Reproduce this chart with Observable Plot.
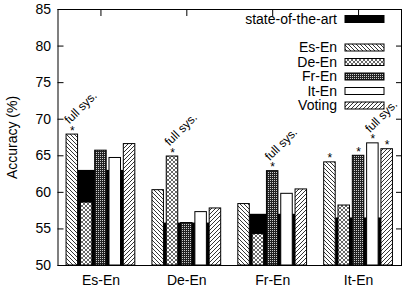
<!DOCTYPE html>
<html>
<head>
<meta charset="utf-8">
<script src="https://cdn.jsdelivr.net/npm/d3@7"></script>
<script src="https://cdn.jsdelivr.net/npm/@observablehq/plot@0.6"></script>
<style>
  html, body { margin: 0; padding: 0; background: white; }
</style>
</head>
<body>
<div id="chart"></div>
<script>
// ---- data ----
const categories = ["Es-En", "De-En", "Fr-En", "It-En"];
const systems = ["Es-En", "De-En", "Fr-En", "It-En", "Voting"];
const stateOfTheArt = [63.0, 55.8, 57.0, 56.5];
const esEn   = [67.9, 60.3, 58.4, 64.1];
const deEn   = [58.6, 64.9, 54.3, 58.2];
const frEn   = [65.7, 55.8, 62.9, 65.0];
const itEn   = [64.7, 57.3, 59.8, 66.7];
const voting = [66.6, 57.8, 60.4, 65.9];
const starred = [["Es-En"], ["De-En"], ["Fr-En"], ["Es-En", "Fr-En", "It-En", "Voting"]];
const fullSys = ["Es-En", "De-En", "Fr-En", "It-En"];
const yTicks = [50, 55, 60, 65, 70, 75, 80, 85];
const legendLabels = ["state-of-the-art", "Es-En", "De-En", "Fr-En", "It-En", "Voting"];

const seriesValues = [esEn, deEn, frEn, itEn, voting];
const fills = ["url(#p-es)", "url(#p-de)", "url(#p-fr)", "white", "url(#p-vo)"];

const step = 1 / 6, half = 0.067, soaHalf = 0.267;
const rows = [];
seriesValues.forEach((vals, si) => {
  vals.forEach((v, g) => rows.push({g, si, system: systems[si], value: v,
    cx: g + (si - 2) * step}));
});
const soaRows = stateOfTheArt.map((v, g) => ({g, value: v}));
const starRows = rows.filter(r => starred[r.g].includes(r.system));
const fullRows = rows.filter(r => fullSys[r.g] === r.system);

const marks = [
  Plot.rectY(soaRows, {x1: d => d.g - soaHalf, x2: d => d.g + soaHalf, y1: 50, y2: "value", fill: "black"}),
];
systems.forEach((s, si) => {
  marks.push(Plot.rectY(rows.filter(r => r.si === si), {
    x1: d => d.cx - half, x2: d => d.cx + half, y1: 50, y2: "value",
    fill: fills[si], stroke: "black", strokeWidth: 1
  }));
});
marks.push(
  Plot.frame({stroke: "black", strokeWidth: 1}),
  Plot.axisY({anchor: "left", ticks: yTicks, tickSize: -6, tickPadding: 13, label: null, fontSize: 14}),
  Plot.axisY({anchor: "right", ticks: yTicks, tickSize: -6, tickFormat: () => "", label: null}),
  Plot.axisX({anchor: "top", ticks: [0, 1, 2, 3], tickSize: -6, tickFormat: () => "", label: null}),
  Plot.axisX({anchor: "bottom", ticks: [0, 1, 2, 3], tickSize: 0, tickPadding: 10, tickFormat: i => categories[i], label: null, fontSize: 14}),
  Plot.text(["Accuracy (%)"], {frameAnchor: "left", text: d => d, rotate: -90, dx: -45, fontSize: 14, textAnchor: "middle"}),
  Plot.text(starRows, {x: "cx", y: "value", text: () => "*", fontSize: 12, lineAnchor: "bottom", dy: 0, textAnchor: "middle", fill: "black"}),
  Plot.text(fullRows, {x: "cx", y: "value", text: () => "full sys.", fontSize: 12, rotate: -45, textAnchor: "start", lineAnchor: "bottom", dx: -3, dy: -10, fill: "black"})
);

const chart = Plot.plot({
  width: 413, height: 290,
  marginLeft: 57.5, marginRight: 12, marginTop: 9, marginBottom: 25,
  style: {fontFamily: "'Liberation Sans', Arial, Helvetica, sans-serif", background: "white", color: "black", overflow: "visible"},
  x: {domain: [-0.5, 3.5]},
  y: {domain: [50, 85]},
  marks
});

// ---- patterns ----
const svg = d3.select(chart);
const defs = svg.insert("defs", ":first-child");
function lines(id, d, w) {
  const p = defs.append("pattern").attr("id", id).attr("patternUnits", "userSpaceOnUse")
    .attr("width", 4).attr("height", 4);
  p.append("rect").attr("width", 4).attr("height", 4).attr("fill", "white");
  p.append("path").attr("d", d).attr("stroke", "black").attr("stroke-width", w).attr("fill", "none");
}
lines("p-es", "M0,0L4,4M-1,3L1,5M3,-1L5,1", 0.8);
lines("p-vo", "M0,4L4,0M-1,1L1,-1M3,5L5,3", 0.8);
lines("p-de", "M0,0L4,4M-1,3L1,5M3,-1L5,1M0,4L4,0M-1,1L1,-1M3,5L5,3", 0.6);
{
  const p = defs.append("pattern").attr("id", "p-fr").attr("patternUnits", "userSpaceOnUse")
    .attr("width", 2).attr("height", 2);
  p.append("rect").attr("width", 2).attr("height", 2).attr("fill", "#222");
  p.append("rect").attr("x", 0).attr("y", 0).attr("width", 1).attr("height", 1).attr("fill", "#ccc");
}

// ---- legend (inside plot, upper right) ----
const lg = svg.append("g").attr("font-size", 14).attr("font-family", "'Liberation Sans', Arial, sans-serif");
const legendY = [19, 47.5, 62, 76.5, 91, 105.5];
const legendFill = ["black", ...fills];
legendLabels.forEach((t, i) => {
  lg.append("text").attr("x", 337).attr("y", legendY[i]).attr("text-anchor", "end")
    .attr("dy", "0.35em").attr("fill", "black").text(t);
  lg.append("rect").attr("x", 345).attr("y", legendY[i] - 3.5).attr("width", 39).attr("height", 7)
    .attr("fill", legendFill[i]).attr("stroke", "black").attr("stroke-width", 1);
});

document.getElementById("chart").appendChild(chart);
</script>
</body>
</html>
